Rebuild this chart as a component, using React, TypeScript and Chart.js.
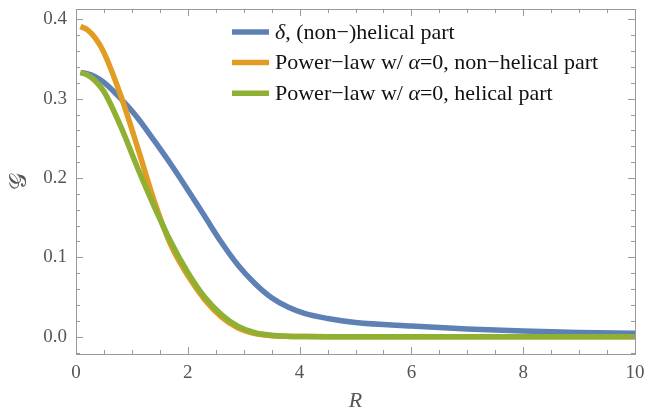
import { useRef, useEffect } from 'react';
import { Chart, registerables } from 'chart.js';

Chart.register(...registerables);

// sample radii (shared by all curves)
const radii = [0.08, 0.2, 0.35, 0.5, 0.8, 1.1, 1.4, 1.7, 2.0, 2.3, 2.6, 2.9, 3.2, 3.5, 3.8, 4.1, 4.5, 5, 6, 7, 8, 9, 10];

const deltaPart = [0.333, 0.3315, 0.3275, 0.3205, 0.3, 0.276, 0.247, 0.217, 0.185, 0.152, 0.119, 0.09, 0.067, 0.049, 0.037, 0.029, 0.023, 0.018, 0.0135, 0.0098, 0.0072, 0.0053, 0.0043];
const nonHelical = [0.391, 0.387, 0.376, 0.358, 0.304, 0.239, 0.171, 0.115, 0.077, 0.047, 0.025, 0.011, 0.004, 0.0013, 0.0004, 0.0001, 0, 0, 0, 0, 0, 0, 0];
const helical = [0.333, 0.33, 0.322, 0.309, 0.265, 0.213, 0.164, 0.119, 0.081, 0.05, 0.028, 0.013, 0.005, 0.0018, 0.0006, 0.0002, 0, 0, 0, 0, 0, 0, 0];

const seriesLabels = [
  [{ t: 'δ', i: true }, { t: ', (non−)helical part', i: false }],
  [{ t: 'Power−law w/ ', i: false }, { t: 'α', i: true }, { t: '=0, non−helical part', i: false }],
  [{ t: 'Power−law w/ ', i: false }, { t: 'α', i: true }, { t: '=0, helical part', i: false }],
];
const seriesColors = ['#5E81B5', '#E19C24', '#8FB032'];

const xMajor = [0, 2, 4, 6, 8, 10];
const xMinor = [0.5, 1, 1.5, 2.5, 3, 3.5, 4.5, 5, 5.5, 6.5, 7, 7.5, 8.5, 9, 9.5];
const yMajor = [0, 0.1, 0.2, 0.3, 0.4];
const yMinor = [-0.02, 0.02, 0.04, 0.06, 0.08, 0.12, 0.14, 0.16, 0.18, 0.22, 0.24, 0.26, 0.28, 0.32, 0.34, 0.36, 0.38];

const SERIF = '"Liberation Serif", "Times New Roman", serif';
const GREY = '#555';

const framePlugin = {
  id: 'frame',
  afterDraw(chart: any) {
    const { ctx, chartArea: a, scales } = chart;
    const xs = scales.x, ys = scales.y;
    ctx.save();
    ctx.strokeStyle = '#999';
    ctx.lineWidth = 1;
    ctx.strokeRect(a.left + 0.5, a.top + 0.5, a.right - a.left, a.bottom - a.top);
    ctx.beginPath();
    const tickX = (vals: number[], len: number) => vals.forEach(v => {
      const p = Math.round(xs.getPixelForValue(v)) + 0.5;
      ctx.moveTo(p, a.bottom); ctx.lineTo(p, a.bottom - len);
      ctx.moveTo(p, a.top); ctx.lineTo(p, a.top + len);
    });
    const tickY = (vals: number[], len: number) => vals.forEach(v => {
      const p = Math.round(ys.getPixelForValue(v)) + 0.5;
      ctx.moveTo(a.left, p); ctx.lineTo(a.left + len, p);
      ctx.moveTo(a.right, p); ctx.lineTo(a.right - len, p);
    });
    tickX(xMajor, 7); tickX(xMinor, 4);
    tickY(yMajor, 7); tickY(yMinor, 4);
    ctx.stroke();

    // legend
    const sx = a.left + 156;
    seriesLabels.forEach((parts, i) => {
      const y = a.top + 23 + i * 30.6;
      ctx.strokeStyle = seriesColors[i];
      ctx.lineWidth = 5.5;
      ctx.beginPath();
      ctx.moveTo(sx, y); ctx.lineTo(sx + 37, y);
      ctx.stroke();
      let tx = sx + 43;
      ctx.fillStyle = '#111';
      ctx.textBaseline = 'middle';
      parts.forEach(p => {
        ctx.font = `${p.i ? 'italic ' : ''}22px ${SERIF}`;
        ctx.fillText(p.t, tx, y + 1);
        tx += ctx.measureText(p.t).width;
      });
    });
    ctx.restore();
  },
};

export default function App() {
  const canvasRef = useRef<HTMLCanvasElement>(null);

  useEffect(() => {
    if (!canvasRef.current) return;
    const series = [deltaPart, nonHelical, helical];
    const chart = new Chart(canvasRef.current, {
      type: 'line',
      data: {
        datasets: series.map((vals, i) => ({
          label: seriesLabels[i].map(p => p.t).join(''),
          data: radii.map((r, k) => ({ x: r, y: vals[k] })),
          borderColor: seriesColors[i],
          borderWidth: 5.5,
          pointRadius: 0,
          cubicInterpolationMode: 'monotone' as const,
          fill: false,
          order: 3 - i,
        })),
      },
      options: {
        responsive: false,
        animation: false,
        layout: { padding: { top: 9, right: 12, left: 0, bottom: 0 } },
        plugins: { legend: { display: false }, tooltip: { enabled: false } },
        scales: {
          x: {
            type: 'linear',
            min: 0,
            max: 10,
            afterBuildTicks: (s: any) => { s.ticks = xMajor.map(v => ({ value: v })); },
            afterFit: (s: any) => { s.height = 58; s.paddingLeft = 0; s.paddingRight = 0; },
            grid: { display: false, drawTicks: false },
            border: { display: false },
            ticks: { color: GREY, font: { family: SERIF, size: 19 }, padding: 8, maxRotation: 0 },
            title: {
              display: true, text: 'R', color: GREY,
              font: { family: SERIF, size: 22, style: 'italic', lineHeight: 1 },
              padding: { top: 0, bottom: 0 },
            },
          },
          y: {
            type: 'linear',
            min: -0.0218,
            max: 0.413,
            afterBuildTicks: (s: any) => { s.ticks = yMajor.map(v => ({ value: v })); },
            afterFit: (s: any) => { s.width = 76; s.paddingTop = 0; s.paddingBottom = 0; },
            grid: { display: false, drawTicks: false },
            border: { display: false },
            ticks: { color: GREY, font: { family: SERIF, size: 19 }, padding: 9, callback: (v: any) => Number(v).toFixed(1) },
            title: {
              display: true, text: '𝒢', color: GREY,
              font: { family: '"DejaVu Serif", "DejaVu Sans", "Noto Sans", serif', size: 24, lineHeight: 1 },
              padding: { top: 8, bottom: 0 },
            },
          },
        },
      },
      plugins: [framePlugin],
    });
    return () => { chart.destroy(); };
  }, []);

  return (
    <div style={{ position: 'fixed', left: 0, top: 0, width: 647, height: 412, background: '#fff' }}>
      <canvas ref={canvasRef} width={647} height={412} />
    </div>
  );
}
